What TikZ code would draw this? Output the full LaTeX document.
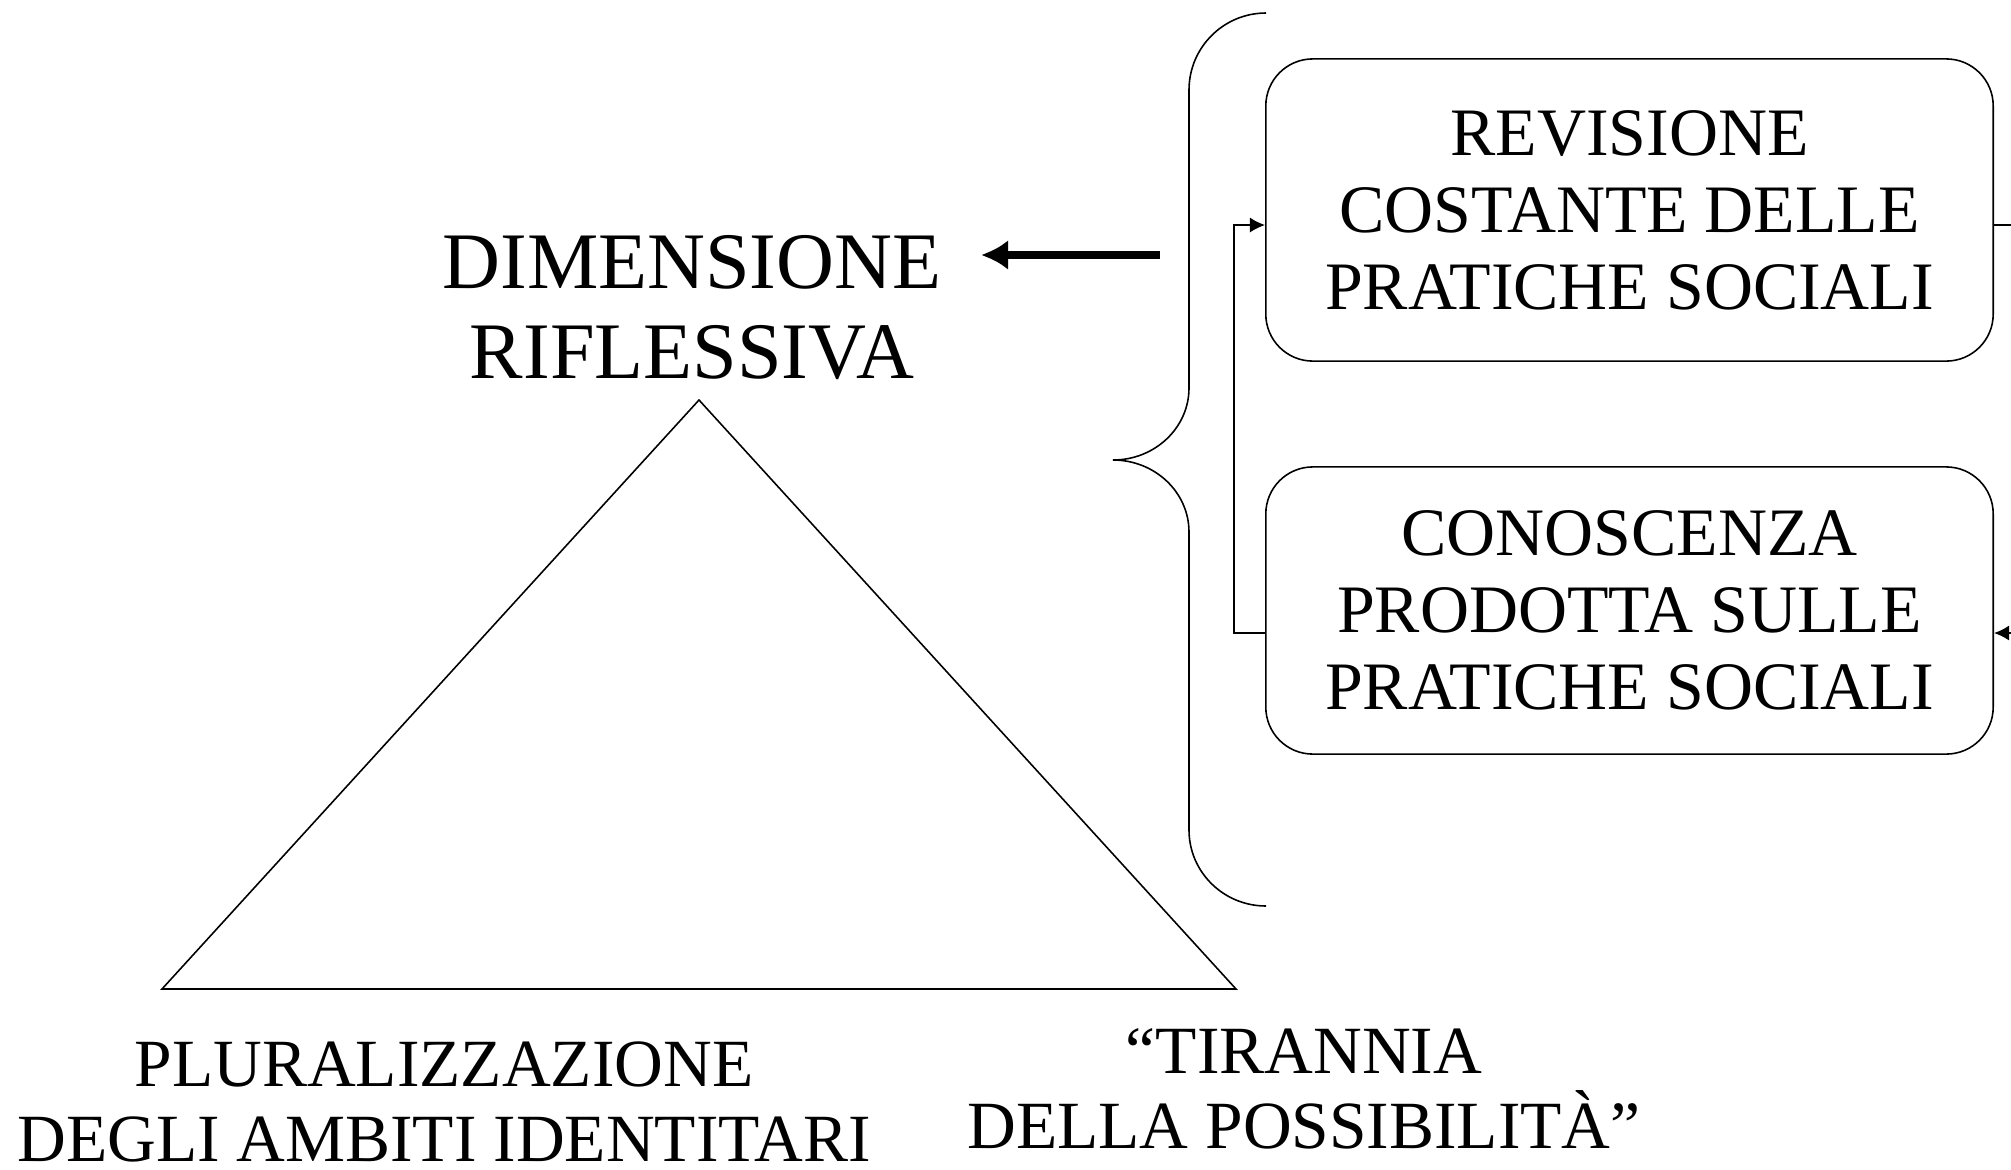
\documentclass[tikz,border=0pt]{standalone}
\usepackage{fontspec}
\setmainfont{Liberation Serif}
\usepackage{tikz}
\usetikzlibrary{arrows.meta,calc}
\tikzset{
  Box/.style={draw, line width=0.45pt, rounded corners=0.47cm, minimum width=7.27cm, inner sep=0pt, align=center, font=\fontsize{19.3}{21.9}\selectfont},
  Caption/.style={inner sep=0pt, align=center},
  Feed/.style={line width=0.45pt, -{Latex[length=0.15cm,width=0.15cm]}},
}

\begin{document}
\begin{tikzpicture}[x=0.01cm, y=-0.01cm]
    \useasboundingbox (0,0) rectangle (2011,1169);
    \coordinate (apex) at (699,400);
    \coordinate (baseleft) at (162,989);
    \coordinate (baseright) at (1236,989);
    \draw[line width=0.45pt] (apex) to (baseleft) to (baseright) to cycle;
    \node[Caption, font=\fontsize{22.8}{25.6}\selectfont] (dimensione) at (692,307.5) {DIMENSIONE\\RIFLESSIVA};
    \node[Caption, font=\fontsize{19.2}{21.3}\selectfont] (pluralizzazione) at (444,1102) {PLURALIZZAZIONE\\DEGLI AMBITI IDENTITARI};
    \node[Caption, font=\fontsize{19.2}{21.3}\selectfont] (tirannia) at (1304,1089) {“TIRANNIA\\DELLA POSSIBILITÀ”};
    \node[Box, minimum height=3.02cm] (revisione) at (1629.5,210) {REVISIONE\\COSTANTE DELLE\\PRATICHE SOCIALI};
    \node[Box, minimum height=2.87cm] (conoscenza) at (1629.5,610.5) {CONOSCENZA\\PRODOTTA SULLE\\PRATICHE SOCIALI};
    \draw[line width=0.45pt] (1266,13) .. controls (1223.5,13) and (1189,47.5) .. (1189,90) to (1189,388)
        .. controls (1189,427.7) and (1155,460) .. (1113,460)
        .. controls (1155,460) and (1189,492.3) .. (1189,532) to (1189,830)
        .. controls (1189,872) and (1223.5,906) .. (1266,906);
    \coordinate (bracefrom) at (1160,255);
    \draw[line width=2pt, -{Latex[length=0.27cm,width=0.3cm]}, shorten >=0.39cm] (bracefrom) to (bracefrom -| dimensione.east);
    \draw[Feed] ([yshift=-0.225cm]conoscenza.west) -- ++(-31,0) |- ([yshift=-0.15cm]revisione.west);
    \coordinate (outright) at (2011,225);
    \coordinate (inright) at (2011,633);
    \draw[line width=0.45pt] ([yshift=-0.15cm]revisione.east) to (outright);
    \draw[Feed] (inright) to ([yshift=-0.225cm]conoscenza.east);
\end{tikzpicture}
\end{document}
